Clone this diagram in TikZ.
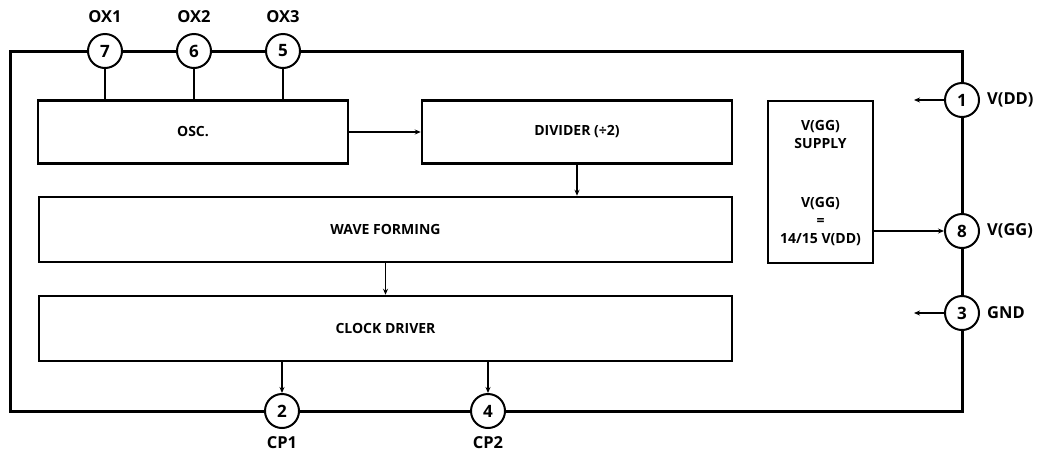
\documentclass[tikz,border=0pt]{standalone}
\usepackage{fontspec}
\setmainfont{Open Sans}
\usetikzlibrary{arrows.meta}
\begin{document}
\begin{tikzpicture}[x=1pt,y=-1pt,
  blk/.style={draw,line width=2.5pt,inner sep=0pt,fill=white,font=\bfseries\fontsize{14}{17}\selectfont,align=center},
  pin/.style={draw,circle,line width=2pt,fill=white,minimum size=34pt,inner sep=0pt,font=\bfseries\fontsize{17}{17}\selectfont},
  lbl/.style={font=\bfseries\fontsize{16.5}{16.5}\selectfont,inner sep=0pt},
  wire/.style={line width=1.3pt},
  arr/.style={line width=1.3pt,-{Stealth[length=6pt,width=5pt]}}]
\useasboundingbox (0,0) rectangle (1041,456);
% outer package
\draw[line width=3pt] (10,51) rectangle (962,411);
% blocks
\node[blk,minimum width=310pt,minimum height=63pt] (osc) at (193,132) {OSC.};
\node[blk,minimum width=310pt,minimum height=63pt] (div) at (577,132) {DIVIDER (÷2)};
\node[blk,minimum width=693pt,minimum height=65pt] (wave) at (385.5,229.5) {WAVE FORMING};
\node[blk,minimum width=693pt,minimum height=65pt] (clk) at (385.5,328.5) {CLOCK DRIVER};
\node[blk,minimum width=105pt,minimum height=162pt] (vgg) at (820.5,182) {};
\node[blk,draw=none,fill=none,align=center] (vggt1) at (820.5,134) {V(GG)\\[1pt]SUPPLY};
\node[blk,draw=none,fill=none,align=center] (vggt2) at (820.5,222) {V(GG)\\[1pt]=\\[1pt]14/15 V(DD)};
% pins
\node[pin] (p7) at (105,51) {7};
\node[pin] (p6) at (194,51) {6};
\node[pin] (p5) at (283,51) {5};
\node[pin] (p1) at (962,100) {1};
\node[pin] (p8) at (962,231) {8};
\node[pin] (p3) at (962,313) {3};
\node[pin] (p2) at (282,411) {2};
\node[pin] (p4) at (488,411) {4};
% pin labels
\node[lbl] (l7) at (105,17) {OX1};
\node[lbl] (l6) at (194,17) {OX2};
\node[lbl] (l5) at (283,17) {OX3};
\node[lbl,anchor=west] (l1) at (987,100) {V(DD)};
\node[lbl,anchor=west] (l8) at (987,231) {V(GG)};
\node[lbl,anchor=west] (l3) at (987,313) {GND};
\node[lbl] (l2) at (282,443) {CP1};
\node[lbl] (l4) at (488,443) {CP2};
% connectors
\draw[wire] (p7.south) -- (p7.south |- osc.north);
\draw[wire] (p6.south) -- (p6.south |- osc.north);
\draw[wire] (p5.south) -- (p5.south |- osc.north);
\draw[arr] (osc.east) -- (div.west);
\draw[arr] (div.south) -- (div.south |- wave.north);
\draw[arr] (wave.south) -- (clk.north);
\draw[arr] (p2 |- clk.south) -- (p2.north);
\draw[arr] (p4 |- clk.south) -- (p4.north);
\draw[arr] (vgg.east |- p8) -- (p8.west);
\coordinate (e1) at (914,100);
\coordinate (e3) at (914,313);
\draw[arr] (p1.west) -- (e1);
\draw[arr] (p3.west) -- (e3);
\end{tikzpicture}
\end{document}
